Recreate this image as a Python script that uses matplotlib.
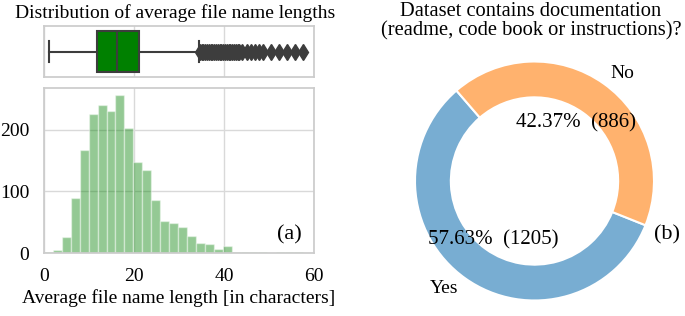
import matplotlib
matplotlib.use("Agg")
import matplotlib.pyplot as plt
import numpy as np

plt.rcParams['font.family'] = ['Liberation Serif', 'DejaVu Serif']
plt.rcParams['font.size'] = 14

# ---- data ----
hist_counts = [2, 5, 26, 90, 167, 226, 240, 231, 256, 203, 148, 135, 86, 52, 49,
               43, 27, 17, 14, 7, 11, 2, 1, 1, 1, 0, 1, 1, 1]
hist_start = 0.0
hist_binwidth = 1.985

box_whislo, box_q1, box_med, box_q3, box_whishi = 1.0, 11.7, 16.3, 21.0, 34.5
box_fliers = [34.6, 35.0, 35.4, 35.8, 36.2, 36.6, 37.0, 37.4, 37.8, 38.2, 38.6,
              39.0, 39.4, 39.8, 40.2, 40.6, 41.0, 41.4, 41.8, 42.2, 42.6, 43.0,
              43.3, 44.1, 45.0, 45.9, 46.8, 47.7, 48.6, 50.4, 52.2, 54.0, 55.8,
              57.6]

pie_labels = ['Yes', 'No']
pie_counts = [1205, 886]

x_ticks = [0, 20, 40, 60]
y_ticks = [0, 100, 200]

# ---- figure ----
W, H = 685, 316
fig = plt.figure(figsize=(W / 100, H / 100), dpi=100)

def px_axes(l, t, r, b):
    return fig.add_axes([l / W, 1 - b / H, (r - l) / W, (b - t) / H])

spine_col = '#cccccc'
grid_col = '#d9d9d9'

def style(ax):
    for s in ax.spines.values():
        s.set_color(spine_col)
        s.set_linewidth(1.25)
    ax.set_axisbelow(True)

# Boxplot axes
axb = px_axes(44, 26, 314, 77)
style(axb)
stats = [dict(whislo=box_whislo, q1=box_q1, med=box_med, q3=box_q3,
              whishi=box_whishi, fliers=box_fliers)]
dark = '#3d3d3d'
axb.bxp(stats, positions=[0], widths=0.8, orientation='horizontal',
        patch_artist=True,
        boxprops=dict(facecolor='green', edgecolor=dark, linewidth=1.5),
        medianprops=dict(color=dark, linewidth=1.5),
        whiskerprops=dict(color=dark, linewidth=1.5),
        capprops=dict(color=dark, linewidth=1.5),
        flierprops=dict(marker='d', markerfacecolor=dark, markeredgecolor=dark,
                        markersize=8))
axb.set_xlim(0, 60)
axb.set_ylim(0.5, -0.5)
axb.set_xticks(x_ticks)
axb.set_yticks([])
axb.tick_params(axis='x', length=0, labelbottom=False)
axb.grid(axis='x', color=grid_col, linewidth=1)
axb.set_title('Distribution of average file name lengths', fontsize=14, pad=6,
              x=0.485)

# Histogram axes
axh = px_axes(44, 88, 314, 253)
style(axh)
lefts = [hist_start + i * hist_binwidth for i in range(len(hist_counts))]
axh.bar(lefts, hist_counts, width=hist_binwidth, align='edge',
        color='green', alpha=0.42, edgecolor='white', linewidth=1)
axh.set_xlim(0, 60)
axh.set_ylim(0, 268)
axh.set_xticks(x_ticks)
axh.set_yticks(y_ticks)
axh.tick_params(axis='x', length=0, pad=11, labelsize=14)
axh.tick_params(axis='y', length=0, pad=10.5, labelsize=14)
axh.grid(True, color=grid_col, linewidth=1)
axh.set_xlabel('Average file name length [in characters]', fontsize=14, labelpad=3)
axh.text(0.91, 0.11, '(a)', transform=axh.transAxes, ha='center', va='center',
         fontsize=16)

# Pie axes
R = 119.5
cx, cy = 534.5, 181
side = 2.5 * R
axp = px_axes(cx - side / 2, cy - side / 2, cx + side / 2, cy + side / 2)
tab_blue = (0x1f / 255, 0x77 / 255, 0xb4 / 255, 0.6)
tab_orange = (1.0, 0x7f / 255, 0x0e / 255, 0.6)
total = sum(pie_counts)
wedges, texts, autotexts = axp.pie(
    pie_counts, labels=pie_labels, colors=[tab_blue, tab_orange],
    startangle=130.8, counterclock=True,
    autopct=lambda p: f'{p:.2f}%  ({int(round(p * total / 100))})',
    pctdistance=0.6, labeldistance=1.1,
    wedgeprops=dict(width=0.3, edgecolor='white', linewidth=1.5),
    textprops=dict(fontsize=14))
for t in autotexts:
    t.set_fontsize(15)
axp.set_xlim(-1.25, 1.25)
axp.set_ylim(-1.25, 1.25)
axp.text(1.11, -0.45, '(b)', ha='center', va='center', fontsize=16)
fig.text(531 / W, 1 - 2 / H,
         'Dataset contains documentation\n(readme, code book or instructions)?',
         ha='center', va='top', fontsize=14.8, linespacing=1.05)

fig.savefig('out.png', dpi=100)
